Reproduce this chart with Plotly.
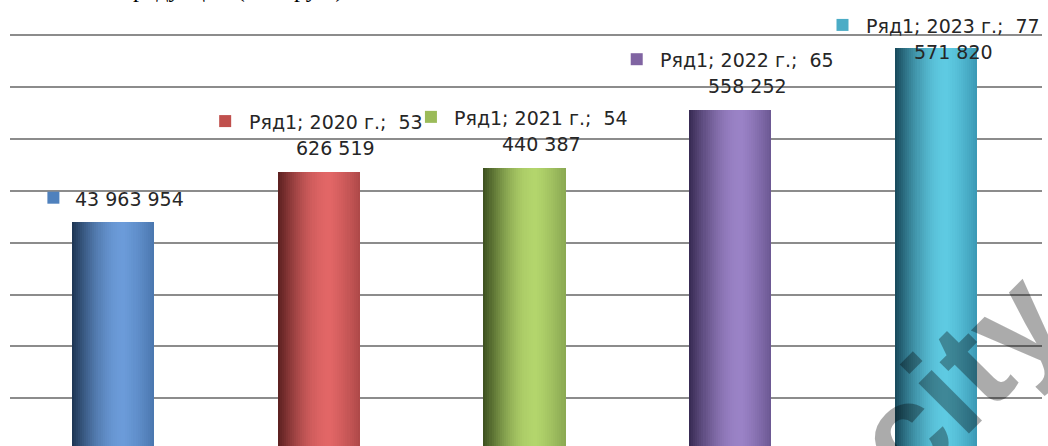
import math
import plotly.graph_objects as go

# ---------------- data ----------------
categories = ["2019 г.", "2020 г.", "2021 г.", "2022 г.", "2023 г."]
values = [43963954, 53626519, 54440387, 65558252, 77571820]
series_name = "Ряд1"
title_text = "Объем продукции (тыс. руб.)"
watermark_text = "city"

# ---------------- styles ----------------
dark_colors = ["#1d3452", "#5a1f1f", "#3c4f1f", "#362951", "#17485a"]
light_colors = ["#6b9bd9", "#e26666", "#b3d56c", "#9a82c6", "#5ecae2"]
edge_colors = ["#4a76ae", "#ad4848", "#8aa852", "#6b5792", "#3a98b4"]
key_colors = ["#4f81bd", "#c0504d", "#9bbb59", "#8064a2", "#4bacc6"]
label_drop = [0, 0, 0, 0, 28]  # teal label pushed down by chart top

BAR_W = 0.40
N_SLICES = 40
PEAK = 0.63


def hex2rgb(h):
    h = h.lstrip("#")
    return tuple(int(h[i:i + 2], 16) for i in (0, 2, 4))


def mix(c1, c2, f):
    a, b = hex2rgb(c1), hex2rgb(c2)
    return "rgb(%d,%d,%d)" % tuple(round(a[k] + (b[k] - a[k]) * f) for k in range(3))


def grad(i, t):
    if t <= PEAK:
        f = math.sin(math.pi / 2 * t / PEAK)
        return mix(dark_colors[i], light_colors[i], f)
    f = (t - PEAK) / (1 - PEAK)
    return mix(light_colors[i], edge_colors[i], f ** 1.3)


fig = go.Figure()
step = BAR_W / N_SLICES
for j in range(N_SLICES):
    x0 = -BAR_W / 2 + j * step
    w = min(step * 1.6, BAR_W / 2 - x0)
    t = (j + 0.5) / N_SLICES
    fig.add_trace(go.Bar(
        x=categories, y=values,
        width=[w] * len(categories), offset=[x0] * len(categories),
        marker=dict(color=[grad(i, t) for i in range(len(categories))], line=dict(width=0)),
        showlegend=False, hoverinfo="skip",
    ))


def fmt(v):
    return f"{v:,}".replace(",", " ")


TXT = dict(family="DejaVu Sans", size=19, color="#262626")
annotations = []
shapes = []
for i, (cat, v) in enumerate(zip(categories, values)):
    drop = label_drop[i]
    if i == 0:
        annotations.append(dict(x=cat, y=v, xref="x", yref="y", text=fmt(v), showarrow=False,
                                xanchor="center", yanchor="middle", xshift=17, yshift=23 - drop, font=TXT))
        sq_dx, sq_dy = -59.5, 24.5 - drop
    else:
        millions = v // 1_000_000
        rest = v % 1_000_000
        line1 = f"{series_name}; {cat};  {millions}"
        line2 = f"{rest // 1000:03d} {rest % 1000:03d}"
        annotations.append(dict(x=cat, y=v, xref="x", yref="y", text=line1, showarrow=False,
                                xanchor="center", yanchor="middle", xshift=17, yshift=50 - drop, font=TXT))
        annotations.append(dict(x=cat, y=v, xref="x", yref="y", text=line2, showarrow=False,
                                xanchor="center", yanchor="middle", xshift=17, yshift=24 - drop, font=TXT))
        sq_dx, sq_dy = -93.5, 51 - drop
    shapes.append(dict(type="rect", xref="x", yref="y", xsizemode="pixel", ysizemode="pixel",
                       xanchor=cat, yanchor=v, x0=sq_dx - 6, x1=sq_dx + 6, y0=sq_dy - 6, y1=sq_dy + 6,
                       fillcolor=key_colors[i], line=dict(width=0), layer="above"))

# partially visible heading above the plot
annotations.append(dict(x=(346 - 10) / 1032, y=1, xref="paper", yref="paper", text=title_text,
                        showarrow=False, xanchor="right", yanchor="bottom", yshift=6,
                        font=dict(family="Liberation Serif", size=24, color="#000000")))
# watermark
annotations.append(dict(x=(958 - 10) / 1032, y=(446 - 378) / 436, xref="paper", yref="paper",
                        text=watermark_text, showarrow=False, textangle=-45,
                        xanchor="center", yanchor="middle",
                        font=dict(family="Liberation Sans", size=135, weight="bold",
                                  color="rgba(0,0,0,0.33)")))

PX_PER_M = 5.186
zero_px = 450.2
y_lo = (zero_px - 446) / PX_PER_M * 1e6
y_hi = (zero_px - 10) / PX_PER_M * 1e6

fig.update_layout(
    width=1048, height=446,
    margin=dict(l=10, r=6, t=10, b=0),
    paper_bgcolor="white", plot_bgcolor="white",
    barmode="overlay", bargap=0,
    showlegend=False,
    annotations=annotations, shapes=shapes,
    xaxis=dict(showticklabels=False, showgrid=False, zeroline=False, showline=False, ticks=""),
    yaxis=dict(range=[y_lo, y_hi], tick0=0, dtick=1e7, showticklabels=False, showgrid=True,
               gridcolor="#8c8c8c", gridwidth=1.5, zeroline=False, showline=False, ticks=""),
)

fig.write_html("out.html", config={"displayModeBar": False},
               post_script="document.body.style.margin='0px';document.body.style.overflow='hidden';")
